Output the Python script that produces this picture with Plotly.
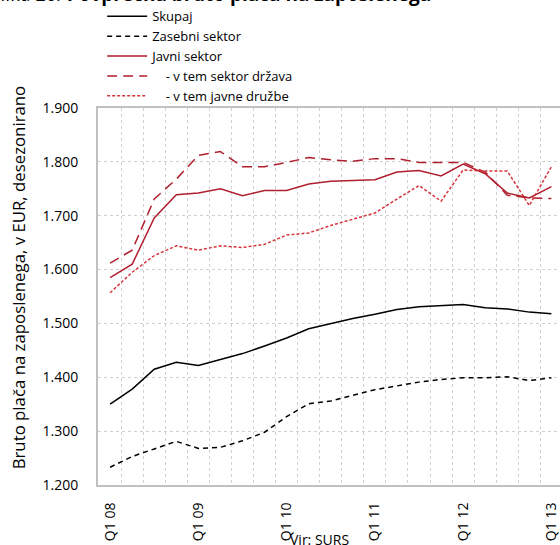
import plotly.graph_objects as go

quarters = ["Q1 08","Q2 08","Q3 08","Q4 08","Q1 09","Q2 09","Q3 09","Q4 09",
            "Q1 10","Q2 10","Q3 10","Q4 10","Q1 11","Q2 11","Q3 11","Q4 11",
            "Q1 12","Q2 12","Q3 12","Q4 12","Q1 13"]

skupaj = [1350,1378,1415,1428,1422,1433,1444,1458,1473,1490,1500,1509,1517,1526,1531,1533,1535,1529,1527,1521,1518]
zasebni = [1233,1253,1267,1281,1268,1270,1282,1298,1327,1351,1356,1367,1377,1384,1391,1396,1399,1399,1401,1394,1399]
javni = [1585,1610,1696,1739,1742,1750,1737,1747,1747,1759,1764,1766,1767,1781,1784,1774,1796,1778,1742,1733,1754]
drzava = [1612,1636,1731,1768,1812,1819,1791,1791,1799,1808,1804,1801,1806,1806,1799,1799,1799,1781,1738,1733,1732]
druzbe = [1557,1595,1626,1644,1636,1644,1641,1647,1664,1668,1682,1694,1705,1731,1756,1727,1785,1783,1783,1719,1791]

y_ticks = [1200,1300,1400,1500,1600,1700,1800,1900]
y_ticktext = ["1.200","1.300","1.400","1.500","1.600","1.700","1.800","1.900"]

names = ["Skupaj", "Zasebni sektor", "Javni sektor",
         "\u00a0\u00a0\u00a0\u00a0- v tem sektor država",
         "\u00a0\u00a0\u00a0\u00a0- v tem javne družbe"]

FONT = "Open Sans"
idx = list(range(len(quarters)))

fig = go.Figure()
styles = [
    (skupaj, "#000000", "solid", 1.5),
    (zasebni, "#000000", "5px,4px", 1.5),
    (javni, "#b01f2e", "solid", 1.5),
    (drzava, "#b01f2e", "10px,6px", 1.5),
    (druzbe, "#d8323a", "3px,2px", 1.5),
]
for (vals, col, dash, w), nm in zip(styles, names):
    fig.add_trace(go.Scatter(x=idx, y=vals, mode="lines", name=nm,
                             line=dict(color=col, dash=dash, width=w)))

label_idx = [0, 4, 8, 12, 16, 20]
fig.update_xaxes(
    range=[-0.55, 20.39],
    tickmode="array", tickvals=label_idx, ticktext=[quarters[i] for i in label_idx],
    tickangle=-90, ticks="outside", ticklen=10, tickcolor="rgba(0,0,0,0)",
    showgrid=False, zeroline=False,
    showline=True, linecolor="#c0c0c0", linewidth=2, mirror=True,
    minor=dict(tickmode="array", tickvals=[i + 0.5 for i in range(20)],
               showgrid=True, gridcolor="#d0d0d0", griddash="dot", gridwidth=1, ticks=""),
    tickfont=dict(family=FONT, size=14, color="#000"),
)
fig.update_yaxes(
    range=[1200, 1900], tickmode="array", tickvals=y_ticks, ticktext=y_ticktext,
    ticks="outside", ticklen=15, tickcolor="rgba(0,0,0,0)",
    showgrid=True, gridcolor="#d0d0d0", griddash="dot", gridwidth=1,
    zeroline=False, showline=True, linecolor="#c0c0c0", linewidth=2,
    tickfont=dict(family=FONT, size=14, color="#000"),
)

fig.add_annotation(text="Bruto plača na zaposlenega, v EUR, desezonirano",
                   xref="paper", yref="paper", x=-0.173, y=0.551, textangle=-90,
                   showarrow=False, xanchor="center", yanchor="middle",
                   font=dict(family=FONT, size=16.8, color="#000"))
fig.add_annotation(text="<i>Slika 20:</i> <b>Povprečna bruto plača na zaposlenega</b>",
                   xref="paper", yref="paper", x=-0.234, y=1.262, xanchor="left", yanchor="bottom",
                   showarrow=False, font=dict(family=FONT, size=19, color="#000"))
fig.add_annotation(text="Vir: SURS", xref="paper", yref="paper", x=0.48, y=-0.115,
                   xanchor="center", yanchor="top", showarrow=False,
                   font=dict(family=FONT, size=14, color="#000"))

fig.update_layout(
    width=560, height=545,
    margin=dict(l=98, r=0, t=108, b=60),
    plot_bgcolor="white", paper_bgcolor="white",
    font=dict(family=FONT, size=14, color="#000"),
    showlegend=True,
    legend=dict(x=0.009, y=1.283, xanchor="left", yanchor="top",
                bgcolor="rgba(0,0,0,0)", font=dict(family=FONT, size=13, color="#000"),
                itemwidth=40, tracegroupgap=0),
)

fig.write_html("out.html", config={"displayModeBar": False},
               post_script="document.body.style.margin='0';document.body.style.overflow='hidden';")
